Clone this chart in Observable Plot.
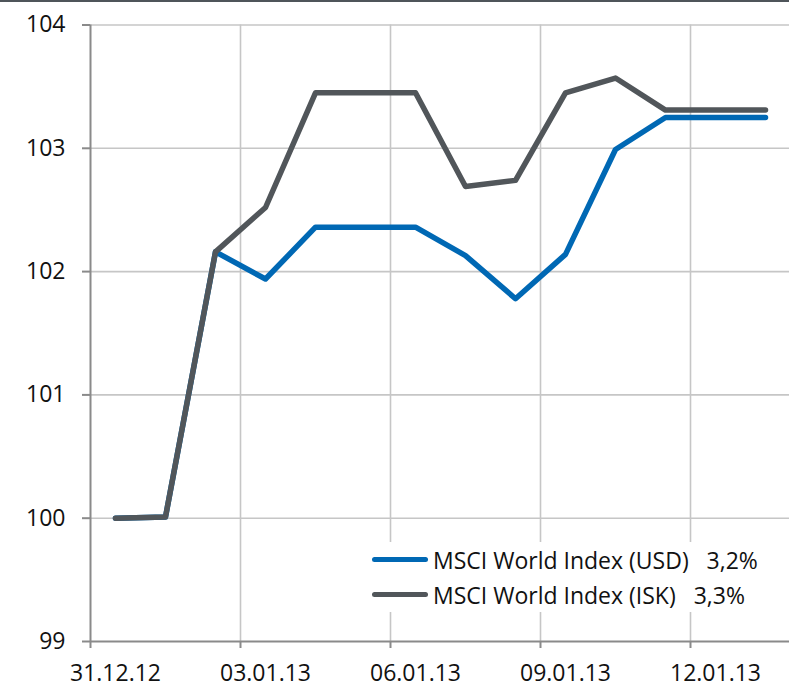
<!DOCTYPE html>
<html>
<head>
<meta charset="utf-8">
<script src="https://cdn.jsdelivr.net/npm/d3@7"></script>
<script src="https://cdn.jsdelivr.net/npm/@observablehq/plot@0.6"></script>
<style>
  html, body { margin: 0; padding: 0; background: #fff; overflow: hidden; }
  #wrap { position: relative; width: 789px; height: 687px; overflow: hidden; }
  #topline { position: absolute; left: 0; top: 0; width: 789px; height: 2px; background: #4f555a; }
  #legend { position: absolute; left: 366px; top: 542px; width: 406px; height: 70px; background: #fff;
            font-family: "Open Sans", sans-serif; font-size: 23px; color: #111; }
  .row { position: absolute; left: 0; height: 35px; display: flex; align-items: center; white-space: pre; }
  .sw { display: inline-block; width: 56px; height: 5.5px; border-radius: 3px; margin-left: 6px; margin-right: 5px; }
</style>
</head>
<body>
<div id="wrap"><div id="topline"></div><div id="legend"></div></div>
<script>
const dates = ["31.12.12","01.01.13","02.01.13","03.01.13","04.01.13","05.01.13","06.01.13",
               "07.01.13","08.01.13","09.01.13","10.01.13","11.01.13","12.01.13","13.01.13"];
const usd = [100, 100.01, 102.16, 101.94, 102.36, 102.36, 102.36, 102.13, 101.78, 102.14, 102.99, 103.25, 103.25, 103.25];
const isk = [100, 100.01, 102.16, 102.52, 103.45, 103.45, 103.45, 102.69, 102.74, 103.45, 103.57, 103.31, 103.31, 103.31];
const seriesNames = ["MSCI World Index (USD)", "MSCI World Index (ISK)"];
const seriesChange = ["3,2%", "3,3%"];
const seriesColors = ["#0068b4", "#51565a"];
const yTicks = [99, 100, 101, 102, 103, 104];
const labelIdx = [0, 3, 6, 9, 12];
const gridIdx = [-0.5, 2.5, 5.5, 8.5, 11.5];

const rows = dates.map((d, i) => ({i, usd: usd[i], isk: isk[i]}));

const chart = Plot.plot({
  width: 789,
  height: 687,
  marginLeft: 90, marginRight: 0, marginTop: 24.5, marginBottom: 46,
  style: {fontFamily: "Open Sans, sans-serif", fontSize: "23px", color: "#111", background: "white", overflow: "visible"},
  x: {domain: [-0.5, 13.5], range: [90, 790]},
  y: {domain: [99, 104], range: [641, 24.5]},
  marks: [
    Plot.ruleY(yTicks.slice(1), {x1: -0.5, x2: 13.5, stroke: "#c6c6c6", strokeWidth: 1.6}),
    Plot.ruleX(gridIdx.slice(1), {y1: 99, y2: 104, stroke: "#c6c6c6", strokeWidth: 1.6}),
    Plot.ruleX([-0.5], {y1: 99, y2: 104, stroke: "#8a8a8a", strokeWidth: 2}),
    Plot.ruleY([99], {x1: -0.5, x2: 13.5, stroke: "#8a8a8a", strokeWidth: 2}),
    Plot.axisY({ticks: yTicks, tickSize: 8, tickPadding: 17, tickFormat: d => String(d), label: null,
                stroke: "#8a8a8a", strokeWidth: 2, fontSize: 23, fill: "#111"}),
    Plot.axisX({ticks: gridIdx, tickSize: 7, tickFormat: () => "", label: null,
                stroke: "#8a8a8a", strokeWidth: 2}),
    Plot.axisX({ticks: labelIdx, tickSize: 0, tickPadding: 23, tickFormat: i => dates[i], label: null,
                fontSize: 23, fill: "#111"}),
    Plot.lineY(rows, {x: "i", y: "usd", stroke: seriesColors[0], strokeWidth: 5.5, strokeLinecap: "round", strokeLinejoin: "round"}),
    Plot.lineY(rows, {x: "i", y: "isk", stroke: seriesColors[1], strokeWidth: 5.5, strokeLinecap: "round", strokeLinejoin: "round"})
  ]
});
const wrap = document.getElementById("wrap");
wrap.insertBefore(chart, wrap.firstChild);
chart.style.position = "absolute"; chart.style.left = "0"; chart.style.top = "0";

const legend = document.getElementById("legend");
seriesNames.forEach((name, k) => {
  const row = document.createElement("div");
  row.className = "row";
  row.style.top = (k * 35) + "px";
  const sw = document.createElement("span");
  sw.className = "sw";
  sw.style.background = seriesColors[k];
  row.appendChild(sw);
  row.appendChild(document.createTextNode(name + "   " + seriesChange[k]));
  legend.appendChild(row);
});
</script>
</body>
</html>
